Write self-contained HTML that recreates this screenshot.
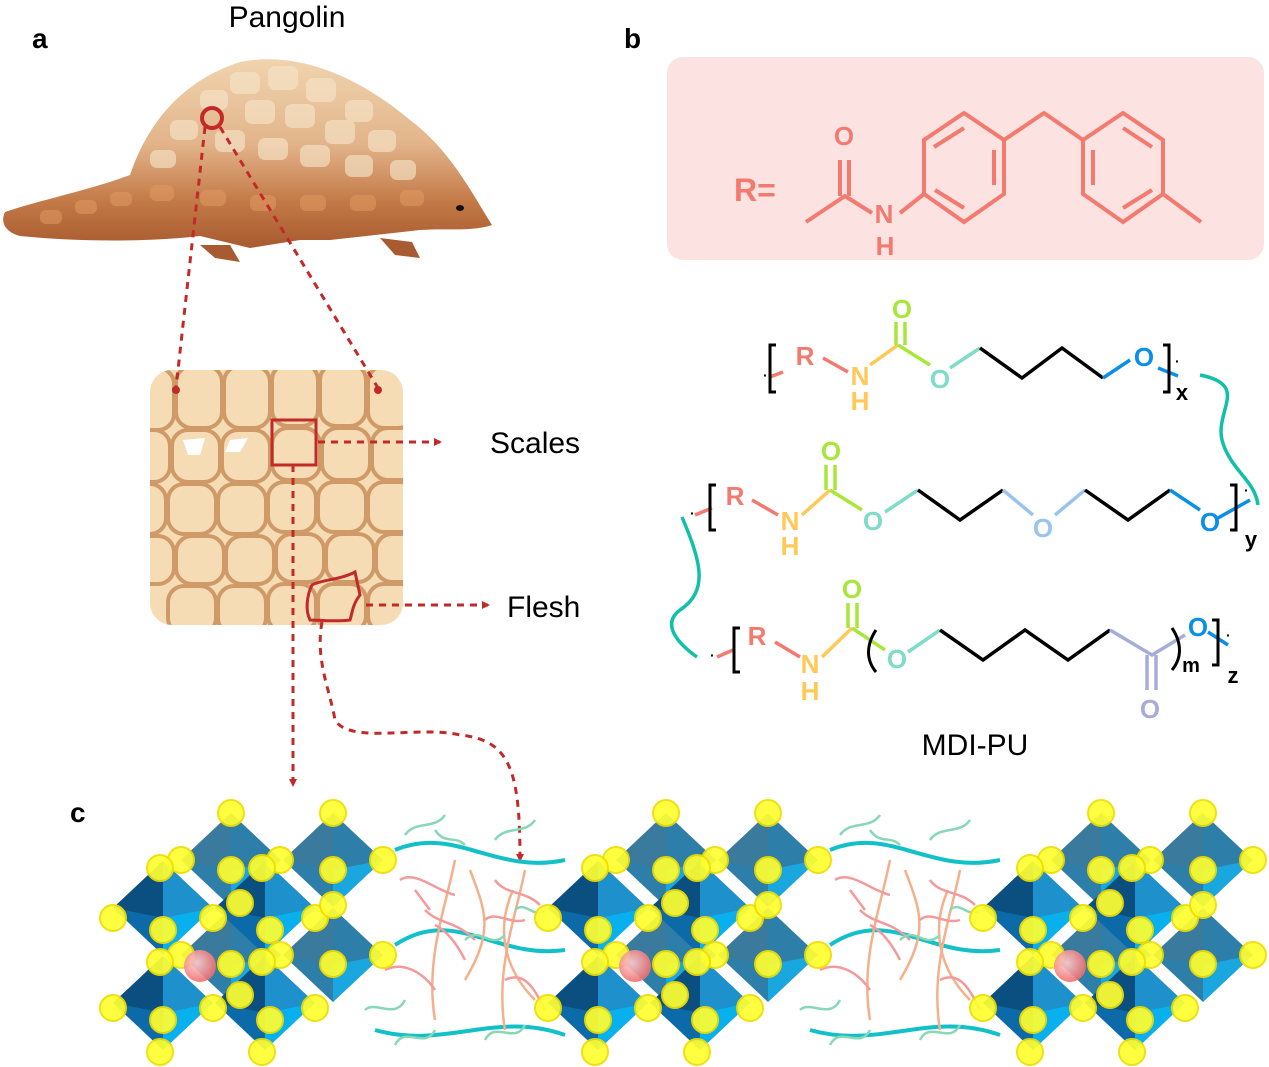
<!DOCTYPE html>
<html><head><meta charset="utf-8"><style>
html,body{margin:0;padding:0;background:#fff;}
svg{display:block;font-family:"Liberation Sans",sans-serif;}
</style></head><body>
<svg width="1269" height="1067" viewBox="0 0 1269 1067" xmlns="http://www.w3.org/2000/svg">
<defs>
<linearGradient id="body" x1="0" y1="0" x2="0" y2="1">
<stop offset="0" stop-color="#f0d4ae"/><stop offset="0.45" stop-color="#e2b48a"/><stop offset="0.75" stop-color="#c47a48"/><stop offset="1" stop-color="#a85a30"/>
</linearGradient>
<radialGradient id="sph" cx="40%" cy="40%" r="60%"><stop offset="0" stop-color="#ffd0d0"/><stop offset="1" stop-color="#ee6f6f"/></radialGradient>
<clipPath id="boxclip"><rect x="150" y="370" width="253" height="255" rx="22"/></clipPath>
<marker id="ar" markerWidth="8" markerHeight="8" refX="6" refY="4" orient="auto" markerUnits="userSpaceOnUse"><path d="M0,0 L8,4 L0,8z" fill="#c22a2a"/></marker>
<g id="oct">
<path d="M0,-47 L50,0 L0,47 L-50,0z" fill="#0a78b8"/>
<path d="M0,-47 L-50,0 L0,10z" fill="#0a4f80"/>
<path d="M0,-47 L50,0 L0,10z" fill="#1e90cc"/>
<path d="M-50,0 L0,10 L0,47z" fill="#0c6aa8"/>
<path d="M50,0 L0,10 L0,47z" fill="#08b0ee"/>
</g>
<g id="back">
<path d="M0,-47 L50,0 L0,47 L-50,0z" fill="#2d7ea8"/>
<path d="M0,-47 L-50,0 L0,10z" fill="#3a7a9c"/>
<path d="M50,0 L0,10 L0,47z" fill="#1aa6de"/>
</g>
<circle id="y" r="13" fill="#ffff30" stroke="#eedd00" stroke-width="2" opacity="0.92"/>
<g id="grp">
<use href="#back" x="231" y="860"/><use href="#back" x="333" y="860"/>
<use href="#back" x="231" y="955"/><use href="#back" x="333" y="955"/>
<use href="#oct" x="163" y="908"/><use href="#oct" x="265" y="908"/>
<use href="#oct" x="163" y="1003"/><use href="#oct" x="265" y="1003"/>
<use href="#y" x="231" y="813"/><use href="#y" x="333" y="813"/>
<use href="#y" x="181" y="860"/><use href="#y" x="280" y="860"/><use href="#y" x="383" y="860"/>
<use href="#y" x="231" y="870"/><use href="#y" x="333" y="870"/>
<use href="#y" x="160" y="868"/><use href="#y" x="262" y="868"/>
<use href="#y" x="113" y="918"/><use href="#y" x="213" y="918"/><use href="#y" x="315" y="918"/>
<use href="#y" x="163" y="930"/><use href="#y" x="270" y="930"/>
<use href="#y" x="240" y="903"/><use href="#y" x="333" y="905"/>
<use href="#y" x="181" y="955"/><use href="#y" x="280" y="955"/><use href="#y" x="383" y="955"/>
<use href="#y" x="160" y="962"/><use href="#y" x="262" y="962"/>
<use href="#y" x="231" y="964"/><use href="#y" x="333" y="964"/>
<use href="#y" x="113" y="1008"/><use href="#y" x="213" y="1008"/><use href="#y" x="315" y="1008"/>
<use href="#y" x="240" y="995"/>
<use href="#y" x="163" y="1020"/><use href="#y" x="270" y="1020"/>
<use href="#y" x="160" y="1052"/><use href="#y" x="262" y="1052"/>
<circle cx="200" cy="966" r="16" fill="url(#sph)" opacity="0.9"/>
</g>
<g id="poly" fill="none" stroke-width="2.5">
<path d="M0,0 C60,-25 100,25 170,10" stroke="#12c0c8" stroke-width="4"/>
<path d="M0,95 C60,55 100,110 170,100" stroke="#12c0c8" stroke-width="4"/>
<path d="M-20,180 C50,200 100,160 170,185" stroke="#12c0c8" stroke-width="4"/>
<path d="M60,10 C50,60 30,110 40,170" stroke="#f4b08a"/>
<path d="M130,20 C120,70 100,120 110,180" stroke="#f4b08a"/>
<path d="M75,20 C90,60 100,80 70,130 M118,40 C100,80 110,120 140,150" stroke="#f4b08a"/>
<path d="M5,30 C20,20 40,40 60,45 M70,110 C60,90 50,80 40,75 M-10,120 C10,110 30,125 40,140 M90,70 C100,60 115,75 130,70 M110,130 C130,120 140,140 150,160 M20,40 L35,60 M30,60 C45,75 60,70 80,90 M100,30 C110,45 130,40 145,55" stroke="#f39a9a"/>
<path d="M10,-15 C20,-30 40,-20 50,-35 M100,-10 C110,-25 130,-15 140,-30 M0,195 C10,175 30,200 40,180 M90,190 C100,170 120,195 130,175 M70,90 C85,75 95,100 110,85 M-30,160 C-20,150 0,170 10,150 M40,-20 C50,-5 60,-15 70,-5 M120,60 C130,50 140,70 150,60" stroke="#88d8b8"/>
</g>
</defs>

<!-- labels -->
<text x="32" y="48" font-size="28" font-weight="bold">a</text>
<text x="624" y="48" font-size="28" font-weight="bold">b</text>
<text x="70" y="822" font-size="28" font-weight="bold">c</text>
<text x="287" y="27" font-size="30" text-anchor="middle">Pangolin</text>
<text x="490" y="453" font-size="30">Scales</text>
<text x="507" y="617" font-size="30">Flesh</text>
<text x="975" y="755" font-size="30" text-anchor="middle">MDI-PU</text>

<!-- pangolin -->
<path d="M200,245 L215,258 L240,262 L230,245z M380,238 L395,255 L420,258 L412,242z" fill="#a85a30"/>
<path d="M5,212 C40,200 90,190 130,175 C150,115 190,78 240,62 C300,50 360,78 410,120 C450,150 470,190 492,225 C470,232 450,228 420,230 L330,240 L300,240 L250,248 L200,236 C150,242 80,242 20,236 C5,232 0,222 5,212z" fill="url(#body)"/>
<g fill="#f6e4c8" opacity="0.65">
<rect x="230" y="72" width="30" height="22" rx="7"/><rect x="268" y="66" width="30" height="24" rx="7"/><rect x="306" y="78" width="30" height="24" rx="7"/><rect x="345" y="100" width="28" height="22" rx="7"/><rect x="200" y="90" width="28" height="20" rx="7"/>
<rect x="245" y="100" width="30" height="24" rx="7"/><rect x="285" y="104" width="30" height="24" rx="7"/><rect x="325" y="120" width="30" height="24" rx="7"/><rect x="368" y="130" width="28" height="22" rx="7"/>
<rect x="170" y="120" width="28" height="20" rx="7"/><rect x="215" y="130" width="30" height="22" rx="7"/><rect x="258" y="138" width="30" height="22" rx="7"/><rect x="300" y="145" width="30" height="22" rx="7"/><rect x="345" y="155" width="28" height="22" rx="7"/><rect x="390" y="160" width="26" height="20" rx="7"/><rect x="150" y="150" width="26" height="18" rx="7"/>
</g>
<g fill="#e29a62" opacity="0.55">
<rect x="40" y="210" width="22" height="14" rx="6"/><rect x="75" y="200" width="22" height="14" rx="6"/><rect x="110" y="192" width="22" height="14" rx="6"/><rect x="150" y="185" width="24" height="16" rx="6"/><rect x="200" y="190" width="26" height="16" rx="6"/><rect x="250" y="195" width="26" height="16" rx="6"/><rect x="300" y="195" width="26" height="16" rx="6"/><rect x="350" y="195" width="26" height="16" rx="6"/><rect x="400" y="190" width="24" height="16" rx="6"/>
</g>
<ellipse cx="460" cy="208" rx="4" ry="3" fill="#111"/>

<!-- magnified box -->
<rect x="150" y="370" width="253" height="255" rx="22" fill="#f6dcb4"/>
<g fill="none" stroke="#cf9a68" stroke-width="4" clip-path="url(#boxclip)">
<rect x="128" y="368" width="46" height="62" rx="16"/><rect x="176" y="366" width="46" height="62" rx="16"/><rect x="224" y="366" width="46" height="62" rx="16"/><rect x="272" y="364" width="46" height="62" rx="16"/><rect x="320" y="364" width="46" height="62" rx="16"/><rect x="368" y="366" width="46" height="62" rx="16"/>
<rect x="172" y="430" width="48" height="52" rx="16"/><rect x="222" y="430" width="48" height="52" rx="16"/><rect x="272" y="428" width="48" height="52" rx="16"/><rect x="322" y="428" width="48" height="52" rx="16"/><rect x="372" y="428" width="48" height="52" rx="16"/><rect x="122" y="430" width="48" height="52" rx="16"/>
<rect x="168" y="484" width="48" height="50" rx="16"/><rect x="218" y="484" width="48" height="50" rx="16"/><rect x="268" y="482" width="48" height="50" rx="16"/><rect x="318" y="482" width="48" height="50" rx="16"/><rect x="368" y="482" width="48" height="50" rx="16"/><rect x="118" y="484" width="48" height="50" rx="16"/>
<rect x="176" y="536" width="48" height="48" rx="16"/><rect x="226" y="536" width="48" height="48" rx="16"/><rect x="276" y="534" width="48" height="48" rx="16"/><rect x="326" y="534" width="48" height="48" rx="16"/><rect x="376" y="534" width="48" height="48" rx="16"/><rect x="126" y="536" width="48" height="48" rx="16"/>
<rect x="168" y="586" width="48" height="48" rx="16"/><rect x="218" y="586" width="48" height="48" rx="16"/><rect x="268" y="584" width="48" height="48" rx="16"/><rect x="318" y="584" width="48" height="48" rx="16"/><rect x="368" y="584" width="48" height="48" rx="16"/>
</g>
<path d="M183,440 L205,438 L200,455 L188,455z M230,440 L248,438 L240,452 L225,452z" fill="#fff"/>

<!-- red dashed connectors -->
<g fill="none" stroke="#c22a2a" stroke-width="3" stroke-dasharray="7,6">
<line x1="205" y1="127" x2="176" y2="388"/>
<line x1="220" y1="127" x2="378" y2="388"/>
<line x1="318" y1="442" x2="440" y2="442" marker-end="url(#ar)"/>
<line x1="366" y1="605" x2="488" y2="605" marker-end="url(#ar)"/>
<line x1="293" y1="465" x2="293" y2="785" marker-end="url(#ar)"/>
<path d="M322,622 C315,660 330,690 335,720 C350,745 420,725 460,735 C510,740 520,770 520,860" marker-end="url(#ar)"/>
</g>
<circle cx="212" cy="118" r="10" fill="none" stroke="#c22a2a" stroke-width="4"/>
<circle cx="176" cy="390" r="4" fill="#c22a2a"/><circle cx="378" cy="390" r="4" fill="#c22a2a"/>
<rect x="272" y="420" width="44" height="45" fill="none" stroke="#c22a2a" stroke-width="3"/>
<path d="M312,585 C320,580 340,580 355,572 L360,595 C352,605 352,615 350,620 C335,622 320,620 310,620 C305,610 307,595 312,585z" fill="none" stroke="#c22a2a" stroke-width="3"/>

<!-- R box -->
<rect x="667" y="57" width="597" height="203" rx="16" fill="#fde2e2"/>
<text x="734" y="201" font-size="32" font-weight="bold" fill="#f37a6e">R=</text>
<g fill="none" stroke="#f37a6e" stroke-width="4">
<path d="M806,222 L845,196 L872,213 M900,213 L924,194"/>
<path d="M840,196 L840,160 M849,196 L849,160"/>
<path d="M964,113 L1004,140 L1004,194 L964,222 L924,194 L924,140z"/>
<path d="M964,128 L934,147 M994,150 L994,185 M964,208 L935,190"/>
<path d="M1004,140 L1044,113 L1083,140"/>
<path d="M1123,113 L1163,140 L1163,194 L1123,222 L1083,194 L1083,140z"/>
<path d="M1123,128 L1152,147 M1093,150 L1093,185 M1123,208 L1152,190 M1163,194 L1201,222"/>
</g>
<g fill="#f37a6e" font-size="26" font-weight="bold" text-anchor="middle">
<text x="844" y="145">O</text><text x="884" y="223">N</text><text x="885" y="255">H</text>
</g>

<!-- chains -->
<g fill="none" stroke-width="3.5">
<path d="M770,377 L783,372" stroke="#f37a6e"/>
<path d="M823,358 L848,372" stroke="#f37a6e"/>
<path d="M870,365 L898,345" stroke="#ffc857"/>
<path d="M898,345 L930,365" stroke="#a8e63a"/>
<path d="M896,345 L896,322 M905,345 L905,322" stroke="#a8e63a"/>
<path d="M950,368 L980,348" stroke="#7fdcc8"/>
<path d="M980,348 L1022,378 L1062,348 L1103,378" stroke="#000"/>
<path d="M1103,378 L1130,360 M1158,368 L1178,376" stroke="#0a8fe8"/>
<path d="M776,345 L770,345 L770,392 L776,392 M1163,345 L1169,345 L1169,392 L1163,392" stroke="#000" stroke-width="3"/>
<path d="M1200,375 C1250,385 1215,410 1222,440 C1230,470 1255,480 1258,505" stroke="#12c0a8"/>
<path d="M695,515 L712,508 M752,500 L778,515" stroke="#f37a6e"/>
<path d="M802,515 L830,490" stroke="#ffc857"/>
<path d="M830,490 L862,510" stroke="#a8e63a"/>
<path d="M826,490 L826,465 M835,490 L835,465" stroke="#a8e63a"/>
<path d="M885,512 L918,490" stroke="#7fdcc8"/>
<path d="M918,490 L960,520 L1003,490" stroke="#000"/>
<path d="M1003,490 L1033,515 M1055,515 L1085,490" stroke="#9ac4f0"/>
<path d="M1085,490 L1128,520 L1170,490" stroke="#000"/>
<path d="M1170,490 L1200,510 M1218,518 L1250,500" stroke="#0a8fe8"/>
<path d="M716,485 L710,485 L710,530 L716,530 M1230,485 L1236,485 L1236,530 L1230,530" stroke="#000" stroke-width="3"/>
<path d="M682,517 C700,560 710,590 680,610 C660,625 680,645 697,657" stroke="#12c0a8"/>
<path d="M717,657 L733,650 M775,642 L800,657" stroke="#f37a6e"/>
<path d="M822,657 L852,628" stroke="#ffc857"/>
<path d="M852,628 L885,650" stroke="#a8e63a"/>
<path d="M848,628 L848,603 M857,628 L857,603" stroke="#a8e63a"/>
<path d="M908,652 L940,630" stroke="#7fdcc8"/>
<path d="M940,630 L983,660 L1025,630 L1068,660 L1110,630" stroke="#000"/>
<path d="M1110,630 L1152,655 L1185,635 M1147,655 L1147,690 M1156,655 L1156,690" stroke="#a8acd8"/>
<path d="M1208,632 L1228,645" stroke="#0a8fe8"/>
<path d="M740,628 L734,628 L734,672 L740,672 M1212,620 L1218,620 L1218,665 L1212,665" stroke="#000" stroke-width="3"/>
<path d="M876,630 C866,645 866,660 876,672 M1172,628 C1182,643 1182,658 1172,670" stroke="#000" stroke-width="3"/>
</g>
<g font-size="26" font-weight="bold" text-anchor="middle">
<text x="805" y="365" fill="#f37a6e">R</text><text x="860" y="385" fill="#ffc857">N</text><text x="860" y="410" fill="#ffc857">H</text>
<text x="902" y="318" fill="#a8e63a">O</text><text x="940" y="388" fill="#7fdcc8">O</text><text x="1144" y="366" fill="#0a8fe8">O</text>
<text x="1182" y="400" fill="#000" font-size="22">x</text>
<text x="735" y="505" fill="#f37a6e">R</text><text x="790" y="530" fill="#ffc857">N</text><text x="790" y="555" fill="#ffc857">H</text>
<text x="831" y="460" fill="#a8e63a">O</text><text x="873" y="530" fill="#7fdcc8">O</text><text x="1043" y="537" fill="#9ac4f0">O</text><text x="1210" y="531" fill="#0a8fe8">O</text>
<text x="1251" y="547" fill="#000" font-size="22">y</text>
<text x="757" y="645" fill="#f37a6e">R</text><text x="810" y="673" fill="#ffc857">N</text><text x="810" y="700" fill="#ffc857">H</text>
<text x="852" y="598" fill="#a8e63a">O</text><text x="897" y="668" fill="#7fdcc8">O</text><text x="1150" y="718" fill="#a8acd8">O</text><text x="1198" y="636" fill="#0a8fe8">O</text>
<text x="1191" y="672" fill="#000" font-size="20">m</text><text x="1233" y="683" fill="#000" font-size="22">z</text>
</g>
<g font-size="14" font-weight="bold"><text x="763" y="380">·</text><text x="1175" y="366">·</text><text x="690" y="518">·</text><text x="1244" y="495">·</text><text x="710" y="660">·</text><text x="1226" y="640">·</text></g>

<!-- perovskite -->
<use href="#poly" x="395" y="850"/>
<use href="#poly" x="830" y="850"/>
<use href="#grp"/>
<use href="#grp" x="435"/>
<use href="#grp" x="870"/>
</svg>
</body></html>
